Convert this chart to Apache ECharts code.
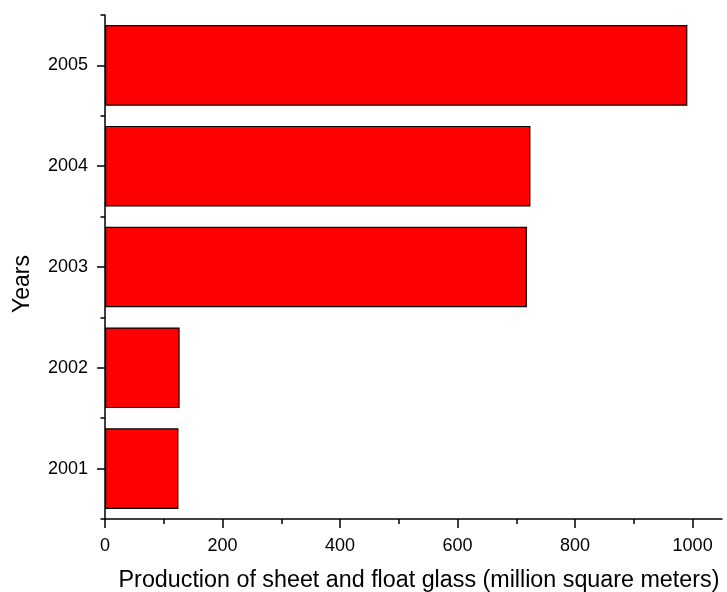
<!DOCTYPE html>
<html>
<head>
<meta charset="utf-8">
<script src="https://cdn.jsdelivr.net/npm/echarts@6/dist/echarts.min.js"></script>
<style>
  html, body { margin: 0; padding: 0; background: #fff; }
  #chart { width: 727px; height: 592px; }
</style>
</head>
<body>
<div id="chart"></div>
<script>
// Annual production of sheet and float glass
const years = ['2001', '2002', '2003', '2004', '2005'];
const production = [125, 127, 718, 724, 991];
const majorTicks = [0, 200, 400, 600, 800, 1000];
const minorTicks = [100, 300, 500, 700, 900];

const fontFamily = 'Arial, "Liberation Sans", sans-serif';
const chart = echarts.init(document.getElementById('chart'), null, { renderer: 'canvas' });

chart.setOption({
  animation: false,
  backgroundColor: '#ffffff',
  grid: { left: 105, right: 5, top: 15, bottom: 73, containLabel: false, outerBoundsMode: 'none' },
  xAxis: [
    {
      type: 'value',
      min: 0,
      max: 1050,
      name: 'Production of sheet and float glass (million square meters)',
      nameLocation: 'middle',
      nameGap: 50,
      nameTextStyle: { fontSize: 23.3, color: '#000', fontFamily, padding: [0, 0, 0, 11] },
      axisLine: { show: true, lineStyle: { color: '#000', width: 1.5 } },
      axisTick: { show: true, length: 9, lineStyle: { color: '#000', width: 1.5 }, customValues: majorTicks },
      axisLabel: {
        fontSize: 18, color: '#000', fontFamily, margin: 18,
        customValues: majorTicks,
        formatter: (v) => String(v)
      },
      splitLine: { show: false }
    },
    {
      type: 'value',
      position: 'bottom',
      min: 0,
      max: 1050,
      axisLine: { show: false },
      axisTick: { show: true, length: 5, lineStyle: { color: '#000', width: 1.5 }, customValues: minorTicks },
      axisLabel: { show: false },
      splitLine: { show: false }
    }
  ],
  yAxis: [
    {
      type: 'category',
      data: years,
      name: 'Years',
      nameLocation: 'middle',
      nameGap: 71,
      nameTextStyle: { fontSize: 23, color: '#000', fontFamily, padding: [0, 34, 0, 0] },
      axisLine: { show: true, lineStyle: { color: '#000', width: 1.5 } },
      axisTick: { show: true, alignWithLabel: true, length: 8, lineStyle: { color: '#000', width: 1.5 } },
      axisLabel: { fontSize: 18, color: '#000', fontFamily, margin: 17 },
      splitLine: { show: false }
    },
    {
      type: 'category',
      data: years,
      position: 'left',
      axisLine: { show: false },
      axisTick: { show: true, length: 4.5, lineStyle: { color: '#000', width: 1.5 } },
      axisLabel: { show: false },
      splitLine: { show: false }
    }
  ],
  series: [
    {
      type: 'bar',
      data: production,
      xAxisIndex: 0,
      yAxisIndex: 0,
      barCategoryGap: '20%',
      itemStyle: { color: '#ff0000', borderColor: '#000', borderWidth: 1.2 }
    }
  ]
});
</script>
</body>
</html>
